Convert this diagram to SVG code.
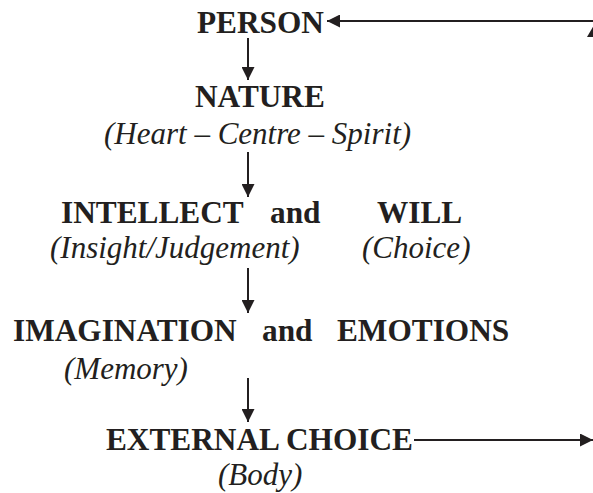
<svg xmlns="http://www.w3.org/2000/svg" width="593" height="493" viewBox="0 0 593 493">
<style>
.b{font-family:"Liberation Serif","Times New Roman",serif;font-weight:bold;font-size:31.3px;fill:#231f20}
.i{font-family:"Liberation Serif","Times New Roman",serif;font-style:italic;font-size:31px;fill:#231f20}
.ln{stroke:#231f20;stroke-width:2;fill:none}
.ah{fill:#231f20}
</style>
<defs>
<marker id="arr" viewBox="0 0 13 13" refX="13" refY="6.5" markerWidth="13" markerHeight="13" markerUnits="userSpaceOnUse" orient="auto">
<path d="M0,0 L13,6.5 L0,13 Z" class="ah"/>
</marker>
</defs>
<rect width="593" height="493" fill="#fff"/>
<g id="person"><text class="b" x="197" y="33">PERSON</text></g>
<g id="nature"><text class="b" x="195" y="107">NATURE</text><text class="i" x="104" y="144">(Heart – Centre – Spirit)</text></g>
<g id="intellect"><text class="b" x="61" y="223">INTELLECT</text><text class="i" x="50" y="258">(Insight/Judgement)</text></g>
<g id="and1"><text class="b" x="270" y="223">and</text></g>
<g id="will"><text class="b" x="377" y="223">WILL</text><text class="i" x="362" y="258">(Choice)</text></g>
<g id="imagination"><text class="b" x="13" y="341">IMAGINATION</text><text class="i" x="64" y="379">(Memory)</text></g>
<g id="and2"><text class="b" x="262" y="341">and</text></g>
<g id="emotions"><text class="b" x="337" y="341">EMOTIONS</text></g>
<g id="external"><text class="b" x="106" y="450">EXTERNAL CHOICE</text><text class="i" x="218" y="485">(Body)</text></g>
<g id="connectors">
<line class="ln" x1="248" y1="38" x2="248" y2="80" marker-end="url(#arr)"/>
<line class="ln" x1="248" y1="152" x2="248" y2="197" marker-end="url(#arr)"/>
<line class="ln" x1="248" y1="268" x2="248" y2="313" marker-end="url(#arr)"/>
<line class="ln" x1="248" y1="378" x2="248" y2="422" marker-end="url(#arr)"/>
<line class="ln" x1="593" y1="21" x2="327" y2="21" marker-end="url(#arr)"/>
<line class="ln" x1="414" y1="440" x2="593" y2="440" marker-end="url(#arr)"/>
<path class="ah" d="M593.5,26 L600,37 L587,37 Z"/>
</g>
</svg>
